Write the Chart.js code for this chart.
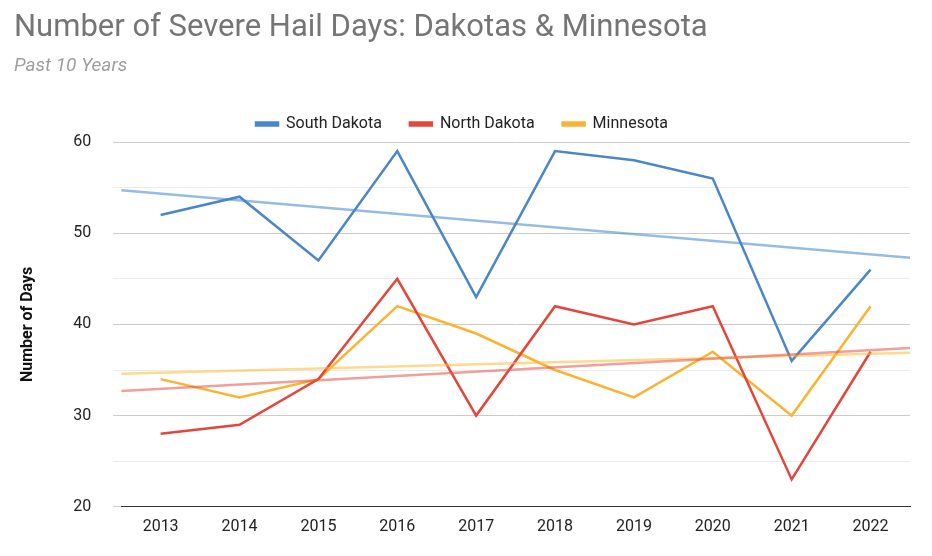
<!DOCTYPE html><html><head><script src="https://cdn.jsdelivr.net/npm/chart.js@4"></script>
<style>body{margin:0;background:#fff}#w{width:932px;height:556px}</style></head><body><div id="w"><canvas id="c"></canvas></div>
<script>
const years=["2013","2014","2015","2016","2017","2018","2019","2020","2021","2022"];
const southDakota=[52,54,47,59,43,59,58,56,36,46];
const northDakota=[28,29,34,45,30,42,40,42,23,37];
const minnesota=[34,32,34,42,39,35,32,37,30,42];
const trendX=[-0.5,9.5];
const sdTrend=[54.7,47.3];
const ndTrend=[32.7,37.4];
const mnTrend=[34.6,36.9];
const pts=a=>a.map((y,i)=>({x:i,y}));
const tpts=a=>a.map((y,i)=>({x:trendX[i],y}));
const ds=(label,data,color)=>({label,data:pts(data),borderColor:color,backgroundColor:color,borderWidth:2.5,pointRadius:0,tension:0});
const tr=(data,color)=>({label:'_t',data:tpts(data),borderColor:color,borderWidth:2.5,pointRadius:0});
new Chart(document.getElementById('c'),{type:'line',data:{datasets:[
tr(sdTrend,'rgba(66,133,204,0.55)'),tr(ndTrend,'rgba(230,80,70,0.55)'),tr(mnTrend,'rgba(255,185,50,0.55)'),
ds('South Dakota',southDakota,'#4a86c8'),ds('North Dakota',northDakota,'#e4463c'),ds('Minnesota',minnesota,'#fbb331')]},
options:{responsive:true,maintainAspectRatio:false,animation:false,
layout:{padding:{left:14,right:22,top:4,bottom:16}},
plugins:{title:{display:true,text:'Number of Severe Hail Days: Dakotas & Minnesota',align:'start',color:'#757575',font:{family:'Roboto',size:31,weight:'normal'},padding:{top:6,bottom:8}},
subtitle:{display:true,text:'Past 10 Years',align:'start',color:'#9e9e9e',font:{family:'Roboto',size:19,style:'italic'},padding:{bottom:10}},
legend:{labels:{filter:i=>i.text!=='_t',boxWidth:22,boxHeight:3,color:'#222',font:{family:'Roboto',size:16},padding:28}},tooltip:{enabled:false}},
scales:{x:{type:'linear',min:-0.5,max:9.5,grid:{display:false},border:{color:'#333'},afterBuildTicks:a=>{a.ticks=years.map((_,i)=>({value:i}));},
ticks:{callback:v=>years[v],color:'#222',font:{family:'Roboto',size:16},autoSkip:false,maxRotation:0}},
y:{min:20,max:60,grid:{color:c=>c.tick.value%10===0?'#cccccc':'#ebebeb'},border:{display:false},
ticks:{stepSize:5,callback:v=>v%10===0?v:'',color:'#222',font:{family:'Roboto',size:16},padding:22},
title:{display:true,text:'Number of Days',color:'#111',font:{family:'Roboto',size:16,weight:'bold'},padding:{bottom:14}}}}}});
</script></body></html>
